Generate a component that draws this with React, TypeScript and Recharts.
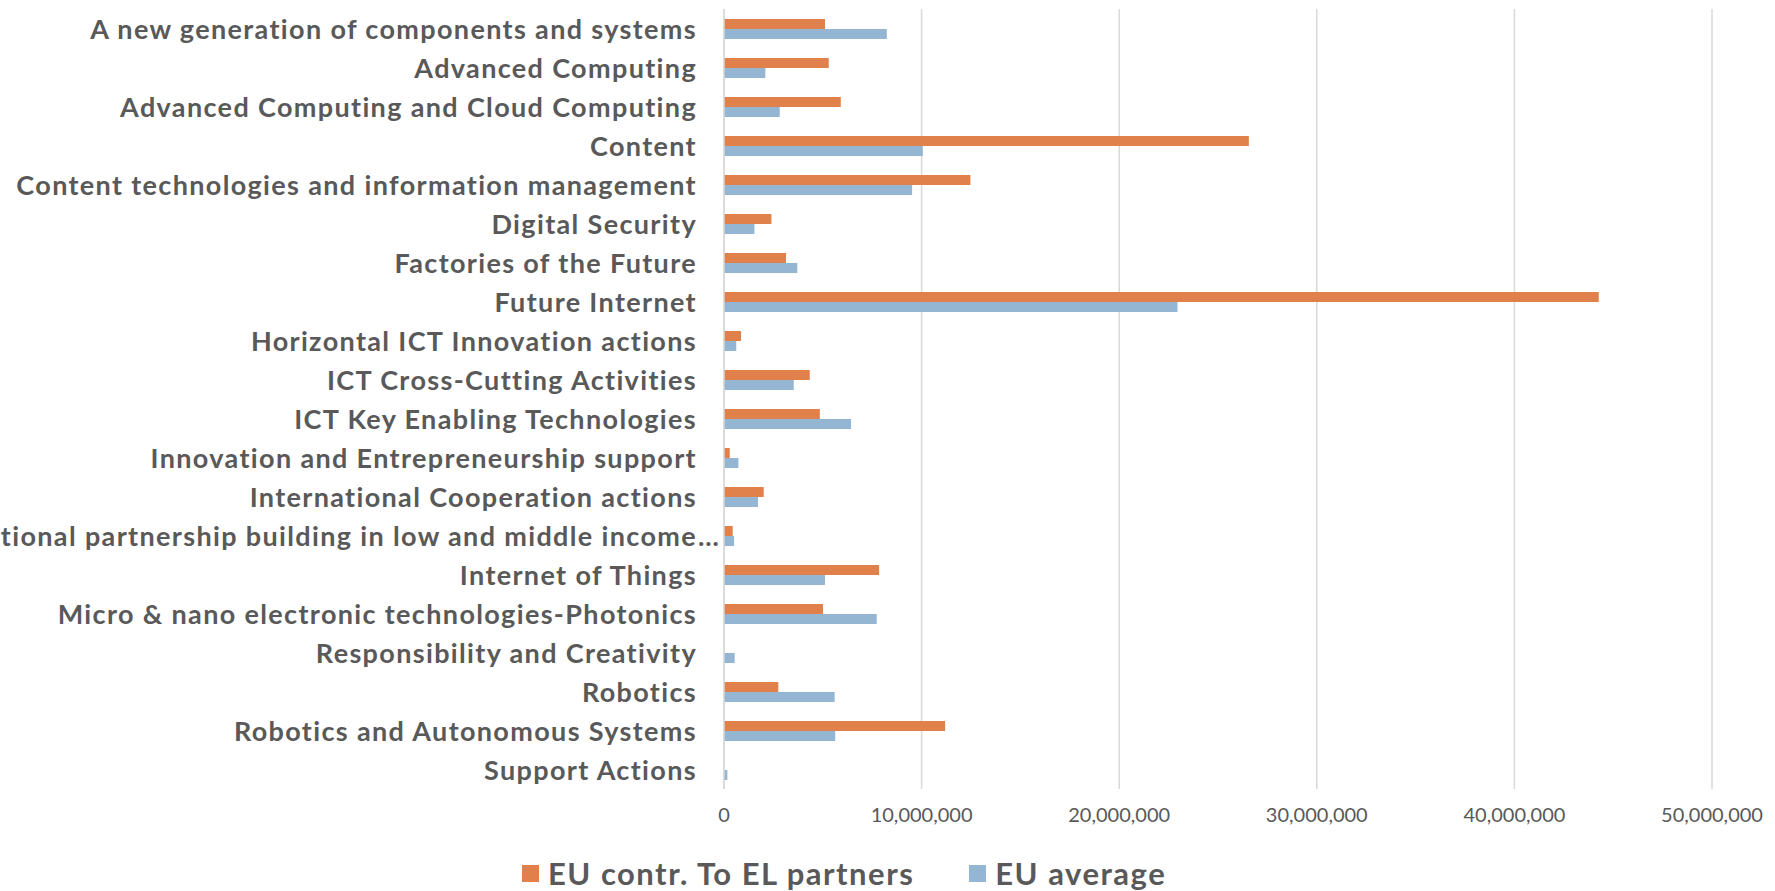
import React from "react";
import { BarChart, Bar, XAxis, YAxis, CartesianGrid, Legend } from "recharts";

const categories = [
  "A new generation of components and systems",
  "Advanced Computing",
  "Advanced Computing and Cloud Computing",
  "Content",
  "Content technologies and information management",
  "Digital Security",
  "Factories of the Future",
  "Future Internet",
  "Horizontal ICT Innovation actions",
  "ICT Cross-Cutting Activities",
  "ICT Key Enabling Technologies",
  "Innovation and Entrepreneurship support",
  "International Cooperation actions",
  "International partnership building in low and middle income…",
  "Internet of Things",
  "Micro & nano electronic technologies-Photonics",
  "Responsibility and Creativity",
  "Robotics",
  "Robotics and Autonomous Systems",
  "Support Actions",
];

// EU contr. To EL partners
const euContrToEL = [
  5110000, 5300000, 5910000, 26560000, 12470000, 2400000, 3140000, 44270000,
  860000, 4340000, 4850000, 290000, 2010000, 440000, 7850000, 5010000, 0,
  2750000, 11190000, 0,
];

// EU average
const euAverage = [
  8240000, 2090000, 2820000, 10060000, 9520000, 1540000, 3710000, 22950000,
  620000, 3530000, 6430000, 730000, 1720000, 510000, 5110000, 7730000, 540000,
  5600000, 5630000, 170000,
];

const xTicks = [0, 10000000, 20000000, 30000000, 40000000, 50000000];

const seriesOrder = ["contr", "avg"];

const data = categories.map((name, i) => ({
  name,
  contr: euContrToEL[i],
  avg: euAverage[i],
}));

const TEXT = "#595959";
const FONT = "Lato, 'Open Sans', sans-serif";

function CategoryTick(props: any) {
  const { x, y, payload } = props;
  const label: string = payload.value;
  const cut = label.endsWith("…");
  const text = cut ? label.slice(0, -1) : label;
  return (
    <g>
      <text x={x} y={y} dy={10} textAnchor="end" fill={TEXT} fontSize={27} fontWeight={700} fontFamily={FONT} letterSpacing={1.35}>
        {text}
      </text>
      {cut && (
        <text x={x + 1} y={y} dy={10} textAnchor="start" fill={TEXT} fontSize={27} fontWeight={700} fontFamily={FONT}>
          …
        </text>
      )}
    </g>
  );
}

function LegendContent(props: any) {
  const items = [...(props.payload || [])].sort(
    (a: any, b: any) => seriesOrder.indexOf(a.dataKey) - seriesOrder.indexOf(b.dataKey)
  );
  return (
    <div style={{ display: "flex", alignItems: "center", height: 34, fontFamily: FONT }}>
      {items.map((entry: any, i: number) => (
        <div key={i} style={{ display: "flex", alignItems: "center", marginRight: 55 }}>
          <span style={{ width: 17, height: 17, background: entry.color, display: "inline-block", marginRight: 9 }} />
          <span style={{ color: TEXT, fontWeight: 700, fontSize: 31, letterSpacing: 1.5 }}>{entry.value}</span>
        </div>
      ))}
    </div>
  );
}

export default function App() {
  return (
    <div>
      <style>{"body{margin:0;background:#fff}"}</style>
      <BarChart
        width={1775}
        height={891}
        data={data}
        layout="vertical"
        margin={{ top: 9, right: 63, bottom: 28, left: 0 }}
        barGap={0}
        barSize={10}
      >
        <CartesianGrid horizontal={false} stroke="#D9D9D9" strokeWidth={1.5} />
        <XAxis
          type="number"
          domain={[0, 50000000]}
          ticks={xTicks}
          axisLine={false}
          tickLine={false}
          tickSize={0}
          tickMargin={19}
          height={40}
          tickFormatter={(v: number) => v.toLocaleString("en-US")}
          tick={{ fill: TEXT, fontSize: 20, fontFamily: FONT }}
        />
        <YAxis
          type="category"
          dataKey="name"
          width={724}
          interval={0}
          tickLine={false}
          tickSize={0}
          tickMargin={27}
          axisLine={{ stroke: "#D9D9D9", strokeWidth: 1.5 }}
          tick={<CategoryTick />}
        />
        <Legend
          verticalAlign="bottom"
          content={<LegendContent />}
          wrapperStyle={{ left: 522, top: 856, width: "auto" }}
        />
        <Bar dataKey="contr" name="EU contr. To EL partners" fill="#E0804A" isAnimationActive={false} />
        <Bar dataKey="avg" name="EU average" fill="#94B6D3" isAnimationActive={false} />
      </BarChart>
    </div>
  );
}
